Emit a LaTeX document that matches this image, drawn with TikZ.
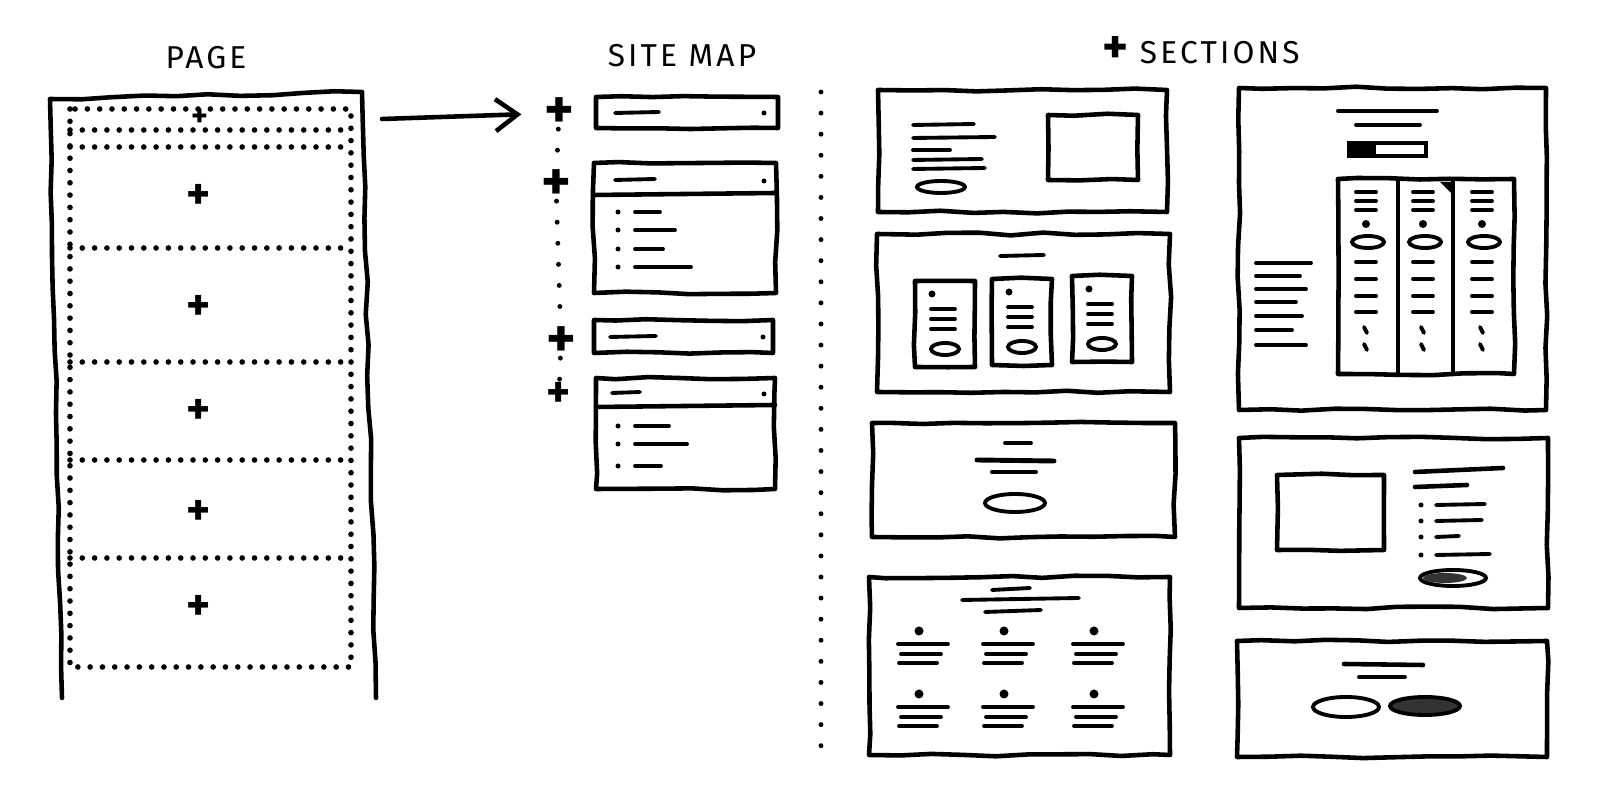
\documentclass[tikz,border=0pt]{standalone}
\usepackage{fontspec}
\newfontfamily\handfont[LetterSpace=10]{Fira Sans}
\usetikzlibrary{arrows.meta, positioning, decorations.pathmorphing}

\begin{document}
\begin{tikzpicture}[
                x=0.1mm, y=-0.1mm,
                font=\handfont,
                >={Straight Barb[length=2.2mm, width=3.2mm]},
                pen/.style={line width=1.3pt, line cap=round, line join=round},
                sketch/.style={
                        pen, decorate,
                        % slight wobble, like a felt pen
                        decoration={random steps, segment length=9pt, amplitude=0.4pt}
                    },
                stroke/.style={line width=1.1pt, line cap=round},
                pill/.style={line width=1.1pt},
                dark/.style={line width=1.1pt, fill=black!80},
                dots/.style={line width=1.6pt, line cap=round, dash pattern=on 0pt off 3.5pt},
                sparse/.style={line width=1.4pt, line cap=round, dash pattern=on 0pt off 6pt},
                plus/.style={font=\handfont\bfseries\fontsize{13}{13}\selectfont, inner sep=0pt},
                bigplus/.style={font=\handfont\bfseries\fontsize{16}{16}\selectfont, inner sep=0pt},
                head/.style={font=\handfont\fontsize{9}{9}\selectfont, inner sep=1pt},
                ]
                \pgfmathsetseed{7}
                \useasboundingbox (0,0) rectangle (1600,800);

                \node[head] (pageTitle) at (206,58) {PAGE};
                \node[head] (mapTitle) at (682,56) {SITE MAP};
                \node[head] (sectTitle) at (1201,50) {{\bfseries\fontsize{14}{14}\selectfont +} SECTIONS};

                % page
                \draw[sketch] (62,698) -- (50,99) -- (362,92) -- (376,698);
                \draw[dots] (70,109) rectangle (351,667);
                \foreach \y in {130,147,248,362,460,558} \draw[dots] (70,\y) -- (351,\y);
                \node[plus, font=\handfont\bfseries\fontsize{9}{9}\selectfont] (pHead) at (200,118) {+};
                \foreach \n/\y in {1/197,2/308,3/412,4/513,5/608} \node[plus] (p\n) at (199,\y) {+};

                % site map
                \node[bigplus] (m1) at (559,113) {+};
                \node[bigplus] (m2) at (556,185) {+};
                \node[bigplus] (m3) at (561,342) {+};
                \node[plus] (m4) at (559,395) {+};
                \draw[sparse] (m1) -- (m2);
                \draw[sparse] (m2) -- (m3);
                \draw[sparse] (m3) -- (m4);

                \coordinate (pageOut) at (382,119);
                \draw[pen, ->, shorten >=2.2mm] (pageOut) -- (m1);

                \draw[sketch] (596,97) rectangle (778,128);
                \draw[stroke] (615,113) -- (659,112);
                \fill (764,113) circle (2.5);

                \draw[sketch] (594,163) rectangle (776,293);
                \draw[pen] (594,195) -- (776,193);
                \draw[stroke] (615,180) -- (655,179);
                \fill (764,181) circle (2.5);
                \foreach \y/\w in {212/25,230/40,249/28,267/56} {
                        \fill (618,\y) circle (2.5);
                        \draw[stroke] (635,\y) -- ++(\w,0);
                    }

                \draw[sketch] (594,320) rectangle (773,353);
                \draw[stroke] (610,337) -- (656,336);
                \fill (763,337) circle (2.5);

                \draw[sketch] (596,378) rectangle (775,489);
                \draw[pen] (596,407) -- (775,405);
                \draw[stroke] (612,393) -- (640,392);
                \fill (764,394) circle (2.5);
                \foreach \y/\w in {426/34,444/52,466/26} {
                        \fill (618,\y) circle (2.5);
                        \draw[stroke] (635,\y) -- ++(\w,0);
                    }

                \draw[sparse] (821,92) -- (821,752);

                % sections, left column
                \draw[sketch] (878,90) rectangle (1167,212);
                \draw[stroke] (913,125) -- (974,124);
                \draw[stroke] (913,138) -- (995,137);
                \draw[stroke] (913,150) -- (950,150);
                \draw[stroke] (913,160) -- (982,159);
                \draw[stroke] (913,169) -- (985,168);
                \draw[pill] (941,187) ellipse [x radius=24, y radius=6];
                \draw[sketch] (1048,115) rectangle (1138,180);

                \draw[sketch] (877,234) rectangle (1170,392);
                \draw[stroke] (1000,256) -- (1044,255);
                \foreach \l/\t in {915/281,992/279,1072/276} {
                        \draw[sketch] (\l,\t) rectangle ++(60,86);
                        \fill (\l+17,\t+13) circle (3.5);
                        \foreach \d in {28,38,48} \draw[stroke] (\l+16,\t+\d) -- ++(24,0);
                        \draw[pill] (\l+30,\t+68) ellipse [x radius=14, y radius=6];
                    }

                \draw[sketch] (872,423) rectangle (1175,537);
                \draw[stroke] (1005,443) -- (1031,443);
                \draw[stroke, line width=1.4pt] (977,460) -- (1054,461);
                \draw[stroke] (992,472) -- (1036,472);
                \draw[pill] (1015,503) ellipse [x radius=30, y radius=9];

                \draw[sketch] (869,577) rectangle (1170,755);
                \draw[stroke] (992,590) -- (1030,588);
                \draw[stroke] (962,600) -- (1079,598);
                \draw[stroke] (985,612) -- (1041,610);
                \foreach \cx in {923,1008,1098} \foreach \y in {631,694} {
                        \fill (\cx-4,\y) circle (4.5);
                        \draw[stroke] (\cx-25,\y+13) -- (\cx+25,\y+13);
                        \draw[stroke] (\cx-22,\y+23) -- (\cx+18,\y+23);
                        \draw[stroke] (\cx-24,\y+32) -- (\cx+14,\y+32);
                    }

                % sections, right column
                \draw[sketch] (1239,88) rectangle (1546,410);
                \draw[stroke] (1338,111) -- (1437,111);
                \draw[stroke] (1356,125) -- (1420,125);
                \draw[pill] (1349,143) rectangle (1426,156);
                \fill (1349,143) rectangle (1376,156);
                \foreach \y/\w in {263/55,276/44,289/50,302/40,316/46,330/36,345/50} \draw[stroke] (1256,\y) -- ++(\w,0);
                \draw[sketch] (1338,179) rectangle (1514,374);
                \draw[pen] (1398,179) -- (1398,374);
                \draw[pen] (1453,181) -- (1453,374);
                \fill (1440,182) -- (1452,182) -- (1452,194) -- cycle;
                \foreach \cx in {1368,1425,1484} {
                        \foreach \y in {192,201,210} \draw[stroke] (\cx-12,\y) -- (\cx+8,\y);
                        \fill (\cx-2,224) circle (4);
                        \draw[pill] (\cx,242) ellipse [x radius=16, y radius=6];
                        \foreach \y in {262,279,296,312} \draw[stroke] (\cx-12,\y) -- (\cx+8,\y);
                        \foreach \y in {330,347} \draw[stroke] (\cx-4,\y-3) -- (\cx-1,\y+3);
                    }

                \draw[sketch] (1239,438) rectangle (1548,608);
                \draw[sketch] (1277,475) rectangle (1384,550);
                \draw[stroke, line width=1.3pt] (1415,472) -- (1503,468);
                \draw[stroke, line width=1.3pt] (1415,487) -- (1467,485);
                \foreach \y/\w in {505/49,521/46,537/23,555/54} {
                        \fill (1421,\y) circle (2.5);
                        \draw[stroke] (1436,\y) -- ++(\w,-1);
                    }
                \draw[pill] (1453,578) ellipse [x radius=33, y radius=8];
                \fill[black!80] (1445,578) ellipse [x radius=22, y radius=5];

                \draw[sketch] (1237,641) rectangle (1547,757);
                \draw[stroke, line width=1.3pt] (1344,664) -- (1423,665);
                \draw[stroke] (1359,677) -- (1405,677);
                \draw[pill] (1346,707) ellipse [x radius=33, y radius=10];
                \draw[dark] (1425,706) ellipse [x radius=35, y radius=9];
            \end{tikzpicture}
\end{document}
